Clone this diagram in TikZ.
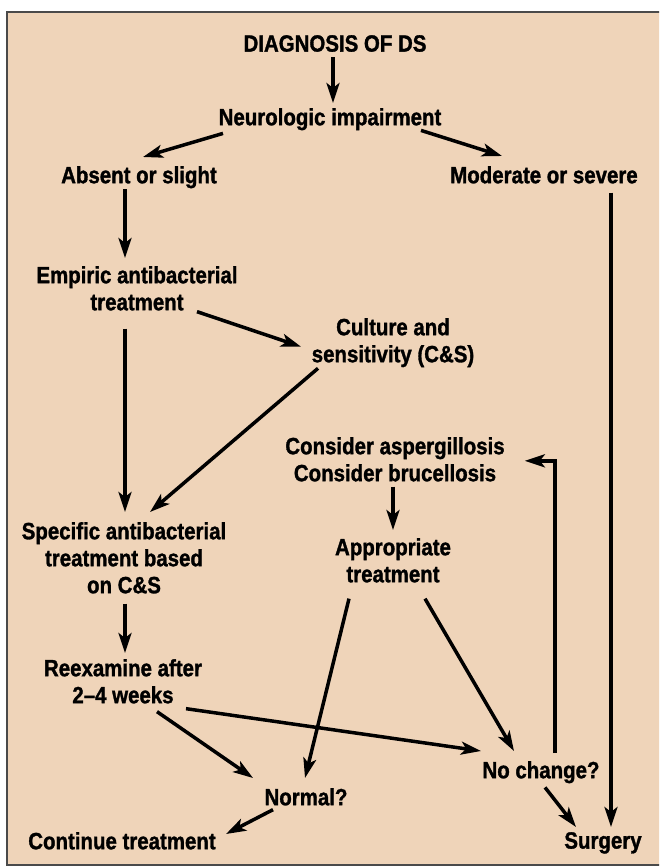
\documentclass[tikz,border=0pt]{standalone}
\usepackage{fontspec}
\setmainfont{Liberation Sans}[FakeStretch=0.87,BoldFeatures={FakeBold=1.3}]
\usepackage{tikz}
\usetikzlibrary{arrows.meta}
\definecolor{peach}{HTML}{EFD4B9}
\definecolor{frameline}{HTML}{4A4A4A}
\tikzset{
  lbl/.style={anchor=north,inner sep=0pt,align=center,
    font=\fontsize{23.5}{27}\selectfont\bfseries},
  arr/.style={line width=3.5pt,-{Stealth[length=20pt,width=13pt,inset=5pt]}}
}
\begin{document}
\begin{tikzpicture}[x=1pt,y=-1pt]
\useasboundingbox (0,0) rectangle (659,867);
\begin{scope}
\clip (0,0) rectangle (659,867);
\draw[frameline,fill=peach,line width=1.5pt] (7,12) rectangle (670,865);
\end{scope}

\node[lbl] (diag) at (335,35) {DIAGNOSIS OF DS};
\node[lbl] (neuro) at (330,108) {Neurologic impairment};
\node[lbl] (absent) at (139,166) {Absent or slight};
\node[lbl] (moderate) at (544,166) {Moderate or severe};
\node[lbl] (empiric) at (137,266) {Empiric antibacterial\\treatment};
\node[lbl] (culture) at (393,318) {Culture and\\sensitivity (C\&S)};
\node[lbl] (consider) at (395,437) {Consider aspergillosis\\Consider brucellosis};
\node[lbl] (approp) at (393,538) {Appropriate\\treatment};
\node[lbl] (specific) at (124,522) {Specific antibacterial\\treatment based\\on C\&S};
\node[lbl] (reexam) at (123,659) {Reexamine after\\2–4 weeks};
\node[lbl] (nochange) at (541,761) {No change?};
\node[lbl] (normal) at (306,788) {Normal?};
\node[lbl] (continue) at (122,832) {Continue treatment};
\node[lbl] (surgery) at (603,832) {Surgery};

\draw[arr] ([xshift=-2pt,yshift=-5pt]diag.south) -- ([xshift=3pt,yshift=5pt]neuro.north);
\draw[arr] ([xshift=-107pt,yshift=-3pt]neuro.south) -- ([xshift=4pt,yshift=9pt]absent.north);
\draw[arr] ([xshift=91pt]neuro.south) -- ([xshift=-42pt,yshift=10pt]moderate.north);
\draw[arr] ([xshift=-14pt,yshift=-1pt]absent.south) -- ([xshift=-12pt,yshift=8pt]empiric.north);
\draw[arr] ([xshift=60pt,yshift=-1pt]empiric.south) -- ([xshift=-92pt,yshift=-4pt]culture.center);
\draw[arr] ([xshift=-12pt,yshift=-18pt]empiric.south) -- ([xshift=1pt,yshift=10pt]specific.north);
\draw[arr] ([xshift=-75pt,yshift=-1pt]culture.south) -- ([xshift=26pt,yshift=10pt]specific.north);
\draw[arr] ([xshift=67pt,yshift=-9pt]moderate.south) -- ([xshift=8pt,yshift=5pt]surgery.north);
\draw[arr] ([xshift=-2pt,yshift=-5pt]consider.south) -- ([yshift=8pt]approp.north);
\draw[arr] ([xshift=-44pt,yshift=-16pt]approp.south) -- ([xshift=-1pt,yshift=10pt]normal.north);
\draw[arr] ([xshift=32pt,yshift=-16pt]approp.south) -- ([xshift=-27pt,yshift=10pt]nochange.north);
\draw[arr] ([xshift=1pt,yshift=-10pt]specific.south) -- ([xshift=2pt,yshift=6pt]reexam.north);
\draw[arr] ([xshift=34pt,yshift=-8pt]reexam.south) -- ([xshift=-53pt,yshift=10pt]normal.north);
\draw[arr] ([xshift=63pt,yshift=-5pt]reexam.south) -- ([xshift=-60pt,yshift=10pt]nochange.north);
\draw[arr] ([xshift=14pt,yshift=8pt]nochange.north) |- ([xshift=20pt,yshift=-1.5pt]consider.east);
\draw[arr] ([xshift=-33pt,yshift=-4pt]normal.south) -- ([xshift=104pt,yshift=-2pt]continue.north);
\draw[arr] ([xshift=4pt,yshift=-4pt]nochange.south) -- ([xshift=-27pt,yshift=5pt]surgery.north);
\end{tikzpicture}
\end{document}
